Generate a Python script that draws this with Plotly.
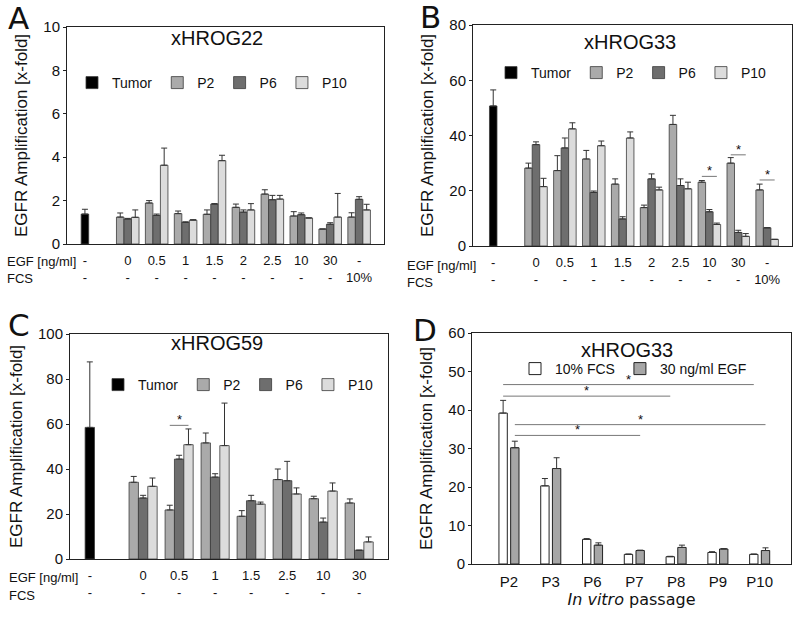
import plotly.graph_objects as go

# x categories
egf_ab = ["0", "0.5", "1", "1.5", "2", "2.5", "10", "30", "-"]
fcs_ab = ["-", "-", "-", "-", "-", "-", "-", "-", "10%"]
egf_c = ["0", "0.5", "1", "1.5", "2.5", "10", "30"]
fcs_c = ["-", "-", "-", "-", "-", "-", "-"]
passages = ["P2", "P3", "P6", "P7", "P8", "P9", "P10"]

# A - xHROG22
a_tumor = [1.38]
a_tumor_err = [0.22]
a_p2 = [1.24, 1.89, 1.40, 1.37, 1.69, 2.30, 1.29, 0.69, 1.24]
a_p2_err = [0.19, 0.11, 0.12, 0.20, 0.15, 0.20, 0.20, 0.0, 0.20]
a_p6 = [1.15, 1.32, 1.00, 1.84, 1.47, 2.04, 1.35, 0.91, 2.06]
a_p6_err = [0.03, 0.06, 0.02, 0.02, 0.10, 0.20, 0.08, 0.07, 0.12]
a_p10 = [1.23, 3.63, 1.10, 3.84, 1.57, 2.07, 1.20, 1.24, 1.57]
a_p10_err = [0.34, 0.79, 0.02, 0.25, 0.29, 0.17, 0.0, 1.09, 0.26]

# B - xHROG33
b_tumor = [50.7]
b_tumor_err = [5.8]
b_p2 = [28.2, 27.3, 31.5, 22.4, 13.9, 44.0, 23.1, 30.0, 20.3]
b_p2_err = [1.8, 5.4, 3.1, 1.9, 0.9, 3.3, 0.6, 2.0, 2.1]
b_p6 = [36.7, 35.5, 19.4, 9.8, 24.3, 21.9, 12.4, 4.9, 6.6]
b_p6_err = [1.0, 3.6, 0.5, 0.8, 1.8, 2.4, 0.8, 0.8, 0.0]
b_p10 = [21.5, 42.4, 36.3, 39.1, 20.3, 20.7, 7.8, 3.5, 2.4]
b_p10_err = [3.0, 2.2, 1.7, 2.2, 1.0, 2.4, 0.5, 1.0, 0.0]
b_sig_groups = [6, 7, 8]
b_sig_heights = [25.2, 33.0, 23.9]

# C - xHROG59
c_tumor = [58.5]
c_tumor_err = [29.1]
c_p2 = [34.1, 21.8, 51.6, 19.0, 35.3, 26.8, 24.9]
c_p2_err = [2.6, 2.1, 4.4, 2.5, 4.7, 1.1, 1.8]
c_p6 = [27.1, 44.4, 36.4, 25.9, 34.8, 16.4, 3.9]
c_p6_err = [1.2, 1.7, 1.5, 2.4, 8.6, 1.8, 0.0]
c_p10 = [32.3, 50.8, 50.4, 24.4, 28.9, 30.2, 7.6]
c_p10_err = [3.7, 7.0, 18.9, 0.9, 2.7, 3.6, 2.2]
c_sig_groups = [1]
c_sig_heights = [59.4]

# D - xHROG33 over passages
d_fcs = [39.2, 20.3, 6.4, 2.5, 1.9, 3.0, 2.5]
d_fcs_err = [3.3, 1.9, 0.2, 0.1, 0.1, 0.2, 0.1]
d_egf = [30.2, 24.8, 4.9, 3.5, 4.3, 3.9, 3.5]
d_egf_err = [1.7, 2.8, 0.6, 0.1, 0.6, 0.1, 0.7]
# significance: (from passage, bar, to passage, height)
d_sig = [("P2", "fcs", "P10", 46.6), ("P2", "fcs", "P8", 43.6),
         ("P2", "egf", "P10", 36.2), ("P2", "egf", "P7", 33.4)]

W, H = 800, 617
FONT = "Liberation Sans, Arial, sans-serif"
COLORS = {"Tumor": "#000000", "P2": "#aaaaaa", "P6": "#6e6e6e", "P10": "#dcdcdc"}
EDGE = "#3a3a3a"
BW = 0.26
TUMOR_X = -1.48

fig = go.Figure()


def err(arr):
    return dict(type="data", symmetric=False, array=arr, arrayminus=[0] * len(arr),
                color="#333333", thickness=1, width=3)


def passage_panel(ax, tumor, tumor_err, p2, p2e, p6, p6e, p10, p10e, legend):
    xs = list(range(len(p2)))
    n = ax[1:]
    xa, ya = "x" + n, "y" + n
    fig.add_trace(go.Bar(x=[TUMOR_X], y=tumor, error_y=err(tumor_err), name="Tumor",
                         width=BW, offset=-BW / 2, marker=dict(color=COLORS["Tumor"], line=dict(color=EDGE, width=0.8)),
                         xaxis=xa, yaxis=ya, legend=legend))
    for name, vals, e, off in [("P2", p2, p2e, -1.5), ("P6", p6, p6e, -0.5), ("P10", p10, p10e, 0.5)]:
        fig.add_trace(go.Bar(x=xs, y=vals, error_y=err(e), name=name, width=BW, offset=off * BW,
                             marker=dict(color=COLORS[name], line=dict(color=EDGE, width=0.8)),
                             xaxis=xa, yaxis=ya, legend=legend))


def star(x, y, xa, ya):
    fig.add_annotation(x=x, y=y, xref=xa, yref=ya, text="*", showarrow=False,
                       xanchor="center", yanchor="bottom", yshift=-4,
                       font=dict(size=13, family=FONT, color="#111"))


def sig_marks(xa, ya, groups, heights):
    for g, h in zip(groups, heights):
        fig.add_shape(type="line", xref=xa, yref=ya, x0=g - BW, x1=g + BW, y0=h, y1=h,
                      line=dict(color="#777777", width=1))
        star(g, h, xa, ya)


passage_panel("x", a_tumor, a_tumor_err, a_p2, a_p2_err, a_p6, a_p6_err, a_p10, a_p10_err, "legend")
passage_panel("x2", b_tumor, b_tumor_err, b_p2, b_p2_err, b_p6, b_p6_err, b_p10, b_p10_err, "legend2")
passage_panel("x3", c_tumor, c_tumor_err, c_p2, c_p2_err, c_p6, c_p6_err, c_p10, c_p10_err, "legend3")
sig_marks("x2", "y2", b_sig_groups, b_sig_heights)
sig_marks("x3", "y3", c_sig_groups, c_sig_heights)

# panel D
DBW = 0.2
fig.add_trace(go.Bar(x=passages, y=d_fcs, error_y=err(d_fcs_err), name="10% FCS", width=DBW, offset=-0.24,
                     marker=dict(color="#ffffff", line=dict(color="#222", width=1)),
                     xaxis="x4", yaxis="y4", legend="legend4"))
fig.add_trace(go.Bar(x=passages, y=d_egf, error_y=err(d_egf_err), name="30 ng/ml EGF", width=DBW, offset=0.04,
                     marker=dict(color="#a6a6a6", line=dict(color="#222", width=1)),
                     xaxis="x4", yaxis="y4", legend="legend4"))
bar_center = {"fcs": -0.14, "egf": 0.14}
for p0, bar, p1, h in d_sig:
    x0 = passages.index(p0) + bar_center[bar]
    x1 = passages.index(p1) + bar_center[bar]
    fig.add_shape(type="line", xref="x4", yref="y4", x0=x0, x1=x1, y0=h, y1=h,
                  line=dict(color="#777777", width=1))
    star((x0 + x1) / 2, h, "x4", "y4")


def px_dom(a, b):
    return [a / W, b / W]


def py_dom(top, bottom):
    return [1 - bottom / H, 1 - top / H]


def yax(domain, rng, dtick, anchor):
    return dict(domain=domain, range=rng, dtick=dtick, anchor=anchor, showline=True, mirror=True,
                linecolor="#222", linewidth=1, ticks="outside", ticklen=3, tickcolor="#222",
                showgrid=False, zeroline=False, automargin=False,
                tickfont=dict(size=15, family=FONT, color="#111"),
                title=dict(text="EGFR Amplification [x-fold]", standoff=11,
                           font=dict(size=17, family=FONT, color="#111")))


def xax(domain, rng, tickvals, ticktext, anchor, size=13):
    return dict(domain=domain, range=rng, anchor=anchor, showline=True, mirror=True,
                linecolor="#222", linewidth=1, ticks="", showgrid=False, zeroline=False,
                automargin=False, tickmode="array", tickvals=tickvals, ticktext=ticktext,
                ticklabelstandoff=4, tickfont=dict(size=size, family=FONT, color="#111"))


ab_vals = [TUMOR_X] + list(range(len(egf_ab)))
ab_text = ["-<br>-"] + [f"{e}<br>{f}" for e, f in zip(egf_ab, fcs_ab)]
c_vals = [TUMOR_X] + list(range(len(egf_c)))
c_text = ["-<br>-"] + [f"{e}<br>{f}" for e, f in zip(egf_c, fcs_c)]


def legend_at(x, y):
    return dict(orientation="h", x=x / W, y=1 - y / H, xanchor="left", yanchor="middle",
                bgcolor="rgba(0,0,0,0)", font=dict(size=14, family=FONT, color="#111"),
                itemwidth=30, tracegroupgap=0)


fig.update_layout(
    width=W, height=H, margin=dict(l=0, r=0, t=0, b=0),
    paper_bgcolor="white", plot_bgcolor="white", barmode="overlay",
    font=dict(family=FONT, color="#111"),
    xaxis=xax(px_dom(67, 384), [-2.1, 8.86], ab_vals, ab_text, "y"),
    yaxis=yax(py_dom(27, 244), [0, 10], 2, "x"),
    xaxis2=xax(px_dom(473, 792), [-2.18, 8.86], ab_vals, ab_text, "y2"),
    yaxis2=yax(py_dom(25, 246), [0, 80], 20, "x2"),
    xaxis3=xax(px_dom(70, 388), [-2.03, 6.8], c_vals, c_text, "y3"),
    yaxis3=yax(py_dom(334, 559), [0, 100], 20, "x3"),
    xaxis4=dict(xax(px_dom(472, 791), [-0.885, 6.75], passages, passages, "y4", size=15),
                title=dict(text="<i>In vitro</i> passage", standoff=4,
                           font=dict(size=16, family="DejaVu Sans, sans-serif", color="#111"))),
    yaxis4=yax(py_dom(333, 564), [0, 60], 10, "x4"),
    legend=legend_at(72, 83),
    legend2=legend_at(491, 73),
    legend3=legend_at(98, 385),
    legend4=legend_at(515, 369),
)


def label(x, y, text, size, family=FONT, xanchor="center"):
    fig.add_annotation(x=x / W, y=1 - y / H, xref="paper", yref="paper", text=text, showarrow=False,
                       xanchor=xanchor, yanchor="middle", font=dict(size=size, family=family, color="#111"))


# titles, panel letters and row labels
for x, y, t in [(217, 38, "xHROG22"), (630, 42, "xHROG33"), (217, 343, "xHROG59"), (627, 350, "xHROG33")]:
    label(x, y, t, 20)
for x, y, t in [(18, 18, "A"), (431, 17, "B"), (19, 325, "C"), (425, 330, "D")]:
    label(x, y, t, 31, family="DejaVu Sans, sans-serif")
for x, y, t in [(5, 262, "EGF [ng/ml]"), (5, 278, "FCS"), (405, 265, "EGF [ng/ml]"), (405, 282, "FCS"),
                (7, 577, "EGF [ng/ml]"), (7, 595, "FCS")]:
    label(x, y, t, 13, xanchor="left")

fig.write_html("out.html", config={"displayModeBar": False},
               post_script="document.body.style.margin='0';")
